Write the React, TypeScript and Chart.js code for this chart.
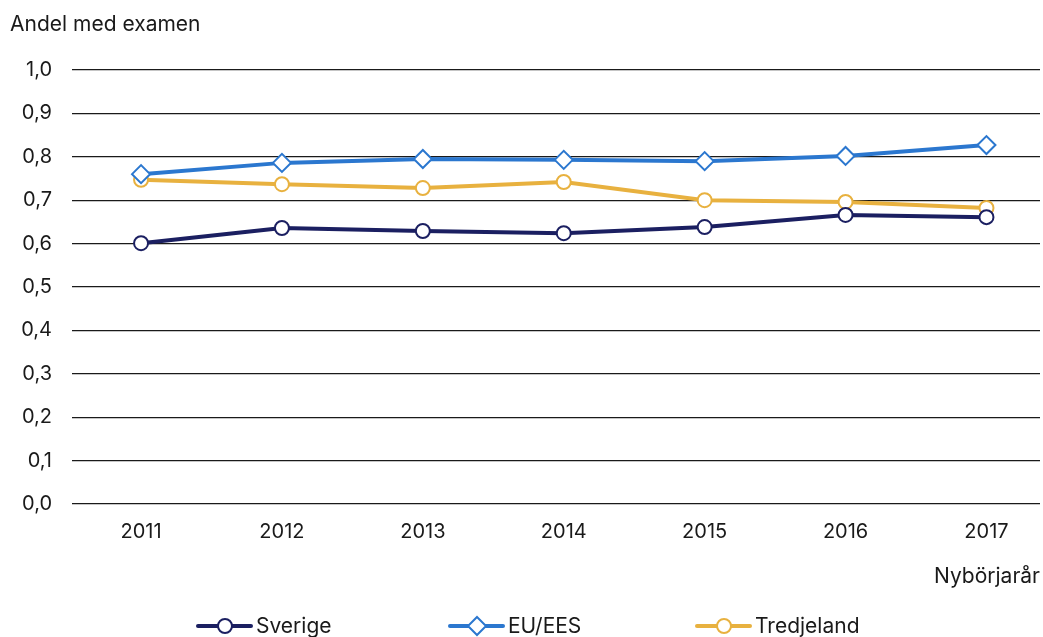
import React, { useEffect, useRef } from "react";
import { Chart, registerables } from "chart.js";

Chart.register(...registerables);

const years = ["2011", "2012", "2013", "2014", "2015", "2016", "2017"];
const sverige = [0.601, 0.636, 0.629, 0.624, 0.638, 0.666, 0.661];
const euees = [0.76, 0.786, 0.795, 0.793, 0.79, 0.802, 0.827];
const tredjeland = [0.747, 0.737, 0.728, 0.742, 0.7, 0.696, 0.682];
const seriesNames = ["Sverige", "EU/EES", "Tredjeland"];
const yTitle = "Andel med examen";
const xTitle = "Nybörjarår";

const COLORS = ["#1b1f61", "#2b77cf", "#e8b13f"];
const FONT = "Inter, 'Noto Sans', sans-serif";

const extras = {
  id: "extras",
  afterDraw(chart: any) {
    const ctx = chart.ctx;
    ctx.save();
    ctx.fillStyle = "#1a1a1a";
    ctx.font = `21px ${FONT}`;
    ctx.textBaseline = "middle";
    ctx.textAlign = "left";
    ctx.fillText(yTitle, 10, 25);
    ctx.textAlign = "right";
    ctx.fillText(xTitle, 1040, 577);
    // legend
    const lx = [198, 450, 697];
    const ly = 626;
    chart.data.datasets.forEach((ds: any, i: number) => {
      const x0 = lx[i];
      ctx.strokeStyle = ds.borderColor;
      ctx.lineWidth = 4;
      ctx.lineCap = "round";
      ctx.beginPath();
      ctx.moveTo(x0, ly);
      ctx.lineTo(x0 + 53, ly);
      ctx.stroke();
      const cx = x0 + 27;
      ctx.fillStyle = "#fff";
      ctx.lineWidth = 2;
      ctx.beginPath();
      if (ds.pointStyle === "rectRot") {
        const r = 9;
        ctx.moveTo(cx, ly - r);
        ctx.lineTo(cx + r, ly);
        ctx.lineTo(cx, ly + r);
        ctx.lineTo(cx - r, ly);
        ctx.closePath();
      } else {
        ctx.arc(cx, ly, 7, 0, Math.PI * 2);
      }
      ctx.fill();
      ctx.stroke();
      ctx.fillStyle = "#1a1a1a";
      ctx.textAlign = "left";
      ctx.font = `21px ${FONT}`;
      ctx.fillText(ds.label, x0 + 58, ly + 1);
    });
    ctx.restore();
  },
};

export default function App() {
  const ref = useRef<HTMLCanvasElement>(null);
  useEffect(() => {
    document.body.style.margin = "0";
    const mk = (label: string, vals: number[], i: number, style: string) => ({
      label,
      data: vals.map((v, k) => ({ x: Number(years[k]), y: v })),
      borderColor: COLORS[i],
      backgroundColor: "#ffffff",
      borderWidth: 4,
      pointStyle: style,
      pointRadius: style === "rectRot" ? 9 : 7,
      pointBorderWidth: 2,
      pointBackgroundColor: "#ffffff",
      pointBorderColor: COLORS[i],
      tension: 0,
      clip: false,
    });
    const chart = new Chart(ref.current!, {
      type: "line",
      data: {
        datasets: [
          mk(seriesNames[0], sverige, 0, "circle"),
          mk(seriesNames[1], euees, 1, "rectRot"),
          mk(seriesNames[2], tredjeland, 2, "circle"),
        ],
      },
      plugins: [extras],
      options: {
        animation: false,
        responsive: false,
        layout: { autoPadding: false, padding: { top: 70, right: 3, bottom: 73, left: 0 } },
        plugins: { legend: { display: false }, tooltip: { enabled: false } },
        scales: {
          x: {
            type: "linear",
            min: 2010.51,
            max: 2017.38,
            grid: { display: false },
            border: { display: false },
            afterFit: (s: any) => {
              s.height = 60;
              s.paddingLeft = 0;
              s.paddingRight = 0;
            },
            ticks: {
              stepSize: 1,
              includeBounds: false,
              padding: 8,
              color: "#1a1a1a",
              font: { family: FONT, size: 20 },
              callback: (v: any) => String(v),
            },
          },
          y: {
            min: 0,
            max: 1,
            afterFit: (s: any) => {
              s.width = 72;
            },
            grid: { color: "#1a1a1a", lineWidth: 1.2, drawTicks: false },
            border: { display: false },
            ticks: {
              stepSize: 0.1,
              padding: 20,
              color: "#1a1a1a",
              font: { family: FONT, size: 20 },
              callback: (v: any) => Number(v).toFixed(1).replace(".", ","),
            },
          },
        },
      },
    } as any);
    return () => chart.destroy();
  }, []);
  return (
    <div style={{ position: "fixed", left: 0, top: 0, width: 1043, height: 637, background: "#fff" }}>
      <canvas ref={ref} width={1043} height={637} />
    </div>
  );
}
